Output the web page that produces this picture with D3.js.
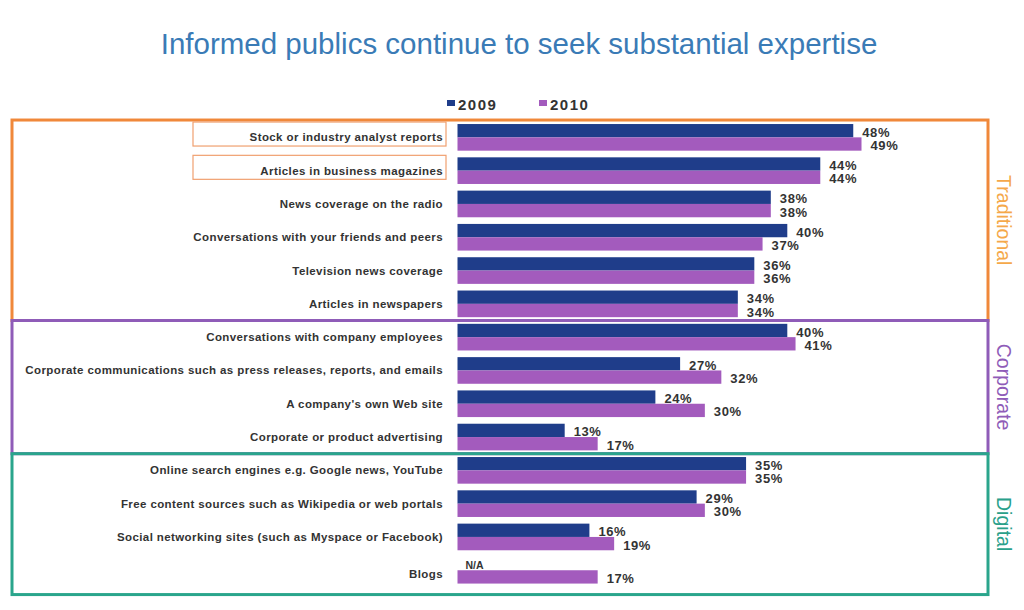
<!DOCTYPE html>
<html>
<head>
<meta charset="utf-8">
<script src="https://cdn.jsdelivr.net/npm/d3@7"></script>
<style>
  body { margin: 0; background: #fff; }
  svg { display: block; font-family: 'Liberation Sans', Arial, sans-serif; }
  .cat { font-size: 11.5px; font-weight: bold; fill: #333; letter-spacing: 0.4px; }
  .val { font-size: 13px; font-weight: bold; fill: #333; letter-spacing: 0.6px; }
</style>
</head>
<body>
<svg class="chart" width="1024" height="610"></svg>
<script>
const categories = [
  'Stock or industry analyst reports',
  'Articles in business magazines',
  'News coverage on the radio',
  'Conversations with your friends and peers',
  'Television news coverage',
  'Articles in newspapers',
  'Conversations with company employees',
  'Corporate communications such as press releases, reports, and emails',
  'A company\'s own Web site',
  'Corporate or product advertising',
  'Online search engines e.g. Google news, YouTube',
  'Free content sources such as Wikipedia or web portals',
  'Social networking sites (such as Myspace or Facebook)',
  'Blogs',
];
const values2009 = [48, 44, 38, 40, 36, 34, 40, 27, 24, 13, 35, 29, 16, null];
const values2010 = [49, 44, 38, 37, 36, 34, 41, 32, 30, 17, 35, 30, 19, 17];
const years = ['2009', '2010'];
const groupNames = ['Traditional', 'Corporate', 'Digital'];
const groupRows = [[0, 5], [6, 9], [10, 13]];
const highlighted = [0, 1];

const startApp = () => {
  const chart = d3.select('.chart');
  const colors = { 2009: '#1f3d8a', 2010: '#a35bbd' };
  const groupColors = ['#f0883a', '#8f5cb8', '#2aa58c'];
  const groupTextColors = ['#f5a84a', '#8f5cb8', '#2aa08a'];

  const xScale = d3.scaleLinear().domain([0, 49]).range([457.5, 861.5]);
  const yScale = d3.scaleBand().domain(categories)
    .range([120.7, 586.9])
    .paddingInner(0.2)
    .paddingOuter(0.1);
  const ySub = d3.scaleBand().domain(years).range([0, yScale.bandwidth()]);

  chart.append('text')
    .attr('x', 519)
    .attr('y', 54)
    .attr('text-anchor', 'middle')
    .style('font-size', '29.5px')
    .attr('fill', '#3a7bb6')
    .text('Informed publics continue to seek substantial expertise');

  // legend
  const legend = chart.append('g').attr('transform', 'translate(447, 104)');
  years.forEach((year, i) => {
    const item = legend.append('g').attr('transform', `translate(${i * 92}, 0)`);
    item.append('rect')
      .attr('x', 0).attr('y', -4).attr('width', 8).attr('height', 6)
      .attr('fill', colors[year]);
    item.append('text')
      .attr('x', 11).attr('y', 5.5)
      .style('font-size', '15px').style('font-weight', 'bold')
      .style('letter-spacing', '1.5px')
      .attr('fill', '#333')
      .text(year);
  });

  // group boxes
  const step = yScale.step();
  groupRows.forEach(([first, last], i) => {
    const top = i === 0 ? yScale(categories[first]) - 4 : yScale(categories[first]) - (step - yScale.bandwidth()) / 2;
    const bottom = i === groupRows.length - 1 ? yScale(categories[last]) + yScale.bandwidth() + 11
      : yScale(categories[last]) + yScale.bandwidth() + (step - yScale.bandwidth()) / 2;
    chart.append('rect')
      .attr('x', 12).attr('y', top)
      .attr('width', 976).attr('height', bottom - top)
      .attr('fill', 'none')
      .attr('stroke', groupColors[i])
      .attr('stroke-width', 3);
    chart.append('text')
      .attr('transform', `translate(997, ${(top + bottom) / 2}) rotate(90)`)
      .attr('text-anchor', 'middle')
      .style('font-size', '19.5px')
      .attr('fill', groupTextColors[i])
      .text(groupNames[i]);
  });

  // highlight boxes round first two labels
  highlighted.forEach((idx) => {
    chart.append('rect')
      .attr('x', 193).attr('y', yScale(categories[idx]) - 2)
      .attr('width', 253).attr('height', 24)
      .attr('fill', 'none')
      .attr('stroke', '#f0a070')
      .attr('stroke-width', 1.2);
  });

  const rows = categories.map((name, i) => ({ name, v2009: values2009[i], v2010: values2010[i] }));

  chart.selectAll('.cat')
    .data(rows)
    .enter()
    .append('text')
    .classed('cat', true)
    .attr('x', 443)
    .attr('y', ({ name }) => yScale(name) + yScale.bandwidth() / 2 + (name === 'Blogs' ? 4 : 0))
    .attr('dy', '0.35em')
    .attr('text-anchor', 'end')
    .text(({ name }) => name);

  const bars = rows.flatMap(({ name, v2009, v2010 }) => [
    { name, year: '2009', value: v2009 },
    { name, year: '2010', value: v2010 },
  ]);

  chart.selectAll('.bar')
    .data(bars.filter(({ value }) => value !== null))
    .enter()
    .append('rect')
    .classed('bar', true)
    .attr('x', xScale(0))
    .attr('y', ({ name, year }) => yScale(name) + ySub(year))
    .attr('width', ({ value }) => xScale(value) - xScale(0))
    .attr('height', ySub.bandwidth())
    .attr('fill', ({ year }) => colors[year]);

  chart.selectAll('.val')
    .data(bars)
    .enter()
    .append('text')
    .classed('val', true)
    .attr('x', ({ value }) => (value === null ? xScale(0) + 8 : xScale(value) + 9))
    .attr('y', ({ name, year }) => yScale(name) + ySub(year) + ySub.bandwidth() / 2 + 1.5)
    .attr('dy', '0.35em')
    .style('font-size', ({ value }) => (value === null ? '10.5px' : null))
    .style('letter-spacing', ({ value }) => (value === null ? '0px' : null))
    .text(({ value }) => (value === null ? 'N/A' : `${value}%`));
};

window.onload = startApp;
</script>
</body>
</html>
